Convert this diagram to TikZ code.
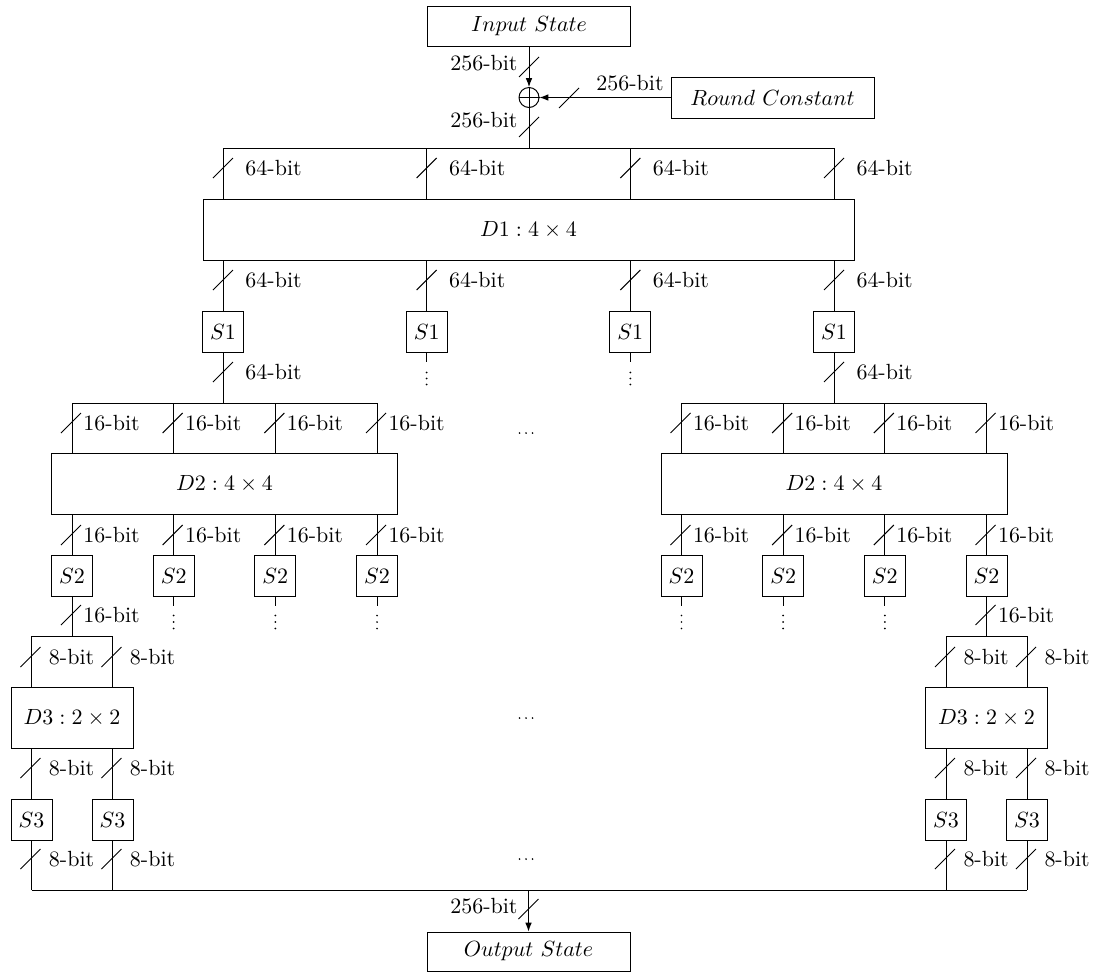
\documentclass[tikz,border=0pt]{standalone}
\usetikzlibrary{arrows.meta}
\newcommand\pxu{0.455pt}
\newcommand\slashmk[2]{\draw (#1-10,#2+10) -- (#1+10,#2-10);}
\begin{document}
\begin{tikzpicture}[x=\pxu, y=-\pxu, line width=0.45pt,
  box/.style={draw, inner sep=0pt},
  sbox/.style={draw, inner sep=0pt, minimum width=41*\pxu, minimum height=41*\pxu},
  lab/.style={inner sep=0pt, anchor=west},
  labr/.style={inner sep=0pt, anchor=east},
  arr/.style={-{Latex[length=4pt,width=3pt]}}]
\useasboundingbox (0,0) rectangle (1093,972);

% ---- top ----
\node[box, minimum width=203*\pxu, minimum height=40*\pxu] (in) at (529,26) {$Input\ State$};
\node[draw, circle, inner sep=0pt, minimum size=20*\pxu] (xor) at (529,97.5) {};
\draw (xor.north) -- (xor.south) (xor.west) -- (xor.east);
\node[box, minimum width=203*\pxu, minimum height=41*\pxu] (rc) at (772.5,97.5) {$Round\ Constant$};
\draw[arr] (in) -- (xor);
\slashmk{529}{67}
\node[labr] (l0) at (518,63) {256-bit};
\draw[arr] (rc) -- (xor);
\slashmk{569}{98}
\node[inner sep=0pt] (l1) at (630,83) {256-bit};
\coordinate (top) at (529,148);
\draw (xor) -- (top);
\slashmk{529}{127}
\node[labr] (l2) at (518,120) {256-bit};

% ---- D1 ----
\node[box, minimum width=651*\pxu, minimum height=61*\pxu] (D1) at (528.5,229.5) {$D1: 4\times 4$};
\foreach \k/\nm in {1/a,2/b,3/c,4/d} {
  \pgfmathsetmacro\xx{223+203.67*(\k-1)}
  \coordinate (t1\nm) at (\xx,148);
  \draw (t1\nm) -- (D1.north -| t1\nm);
  \slashmk{\xx}{168}
  \node[lab] at (\xx+22,168) {64-bit};
  \node[sbox] (S1\nm) at (\xx,331.5) {$S1$};
  \draw (D1.south -| t1\nm) -- (S1\nm);
  \slashmk{\xx}{280}
  \node[lab] at (\xx+22,280) {64-bit};
}
\draw (t1a) -- (t1d);

% stubs and vertical dots under S1b, S1c
\foreach \nm in {b,c} {
  \coordinate (v1\nm) at ([yshift=-9*\pxu]S1\nm.south);
  \draw (S1\nm) -- (v1\nm);
  \foreach \d in {20,26,32} \fill ([yshift=-\d*\pxu]S1\nm.south) circle (0.45pt);
}

% ---- D2 ----
\foreach \side/\cx in {L/224.5, R/834} {
  \node[box, minimum width=346*\pxu, minimum height=61*\pxu] (D2\side) at (\cx,483.5) {$D2: 4\times 4$};
  \foreach \k in {1,2,3,4} {
    \pgfmathsetmacro\xx{\cx-152.5+101.67*(\k-1)}
    \coordinate (t2\side\k) at (\xx,403);
    \draw (t2\side\k) -- (D2\side.north -| t2\side\k);
    \slashmk{\xx-1}{423}
    \node[lab] at (\xx+11,423) {16-bit};
    \node[sbox] (S2\side\k) at (\xx,575.5) {$S2$};
    \draw (D2\side.south -| t2\side\k) -- (S2\side\k);
    \slashmk{\xx-1}{535}
    \node[lab] at (\xx+11,535) {16-bit};
  }
  \draw (t2\side1) -- (t2\side4);
}
\draw (S1a) -- (S1a |- t2L1);
\slashmk{223}{372}
\node[lab] at (245,372) {64-bit};
\draw (S1d) -- (S1d |- t2R1);
\slashmk{834}{372}
\node[lab] at (856,372) {64-bit};

% dots between the blocks
\foreach \dx in {519.5,526,532.5} {
  \fill (\dx,433) circle (0.45pt);
  \fill (\dx,718) circle (0.45pt);
  \fill (\dx,859) circle (0.45pt);
}

% stubs and vertical dots under S2
\foreach \nm in {L2,L3,L4,R1,R2,R3} {
  \coordinate (v2\nm) at ([yshift=-9*\pxu]S2\nm.south);
  \draw (S2\nm) -- (v2\nm);
  \foreach \d in {19,25.5,32} \fill ([yshift=-\d*\pxu]S2\nm.south) circle (0.45pt);
}

% ---- D3 ----
\foreach \side/\cx in {L/72, R/986.5} {
  \node[box, minimum width=122*\pxu, minimum height=61*\pxu] (D3\side) at (\cx,717.5) {$D3: 2\times 2$};
  \foreach \k in {1,2} {
    \pgfmathsetmacro\xx{\cx-40.5+81*(\k-1)}
    \coordinate (t3\side\k) at (\xx,636);
    \draw (t3\side\k) -- (D3\side.north -| t3\side\k);
    \slashmk{\xx-1}{657}
    \node[lab] at (\xx+17,657) {8-bit};
    \node[sbox] (S3\side\k) at (\xx,819.5) {$S3$};
    \draw (D3\side.south -| t3\side\k) -- (S3\side\k);
    \slashmk{\xx-1}{768}
    \node[lab] at (\xx+17,768) {8-bit};
    \coordinate (b3\side\k) at (\xx,890);
    \draw (S3\side\k) -- (b3\side\k);
    \slashmk{\xx-1}{859}
    \node[lab] at (\xx+17,859) {8-bit};
  }
  \draw (t3\side1) -- (t3\side2);
}
\draw (S2L1) -- (S2L1 |- t3L1);
\slashmk{71}{615}
\node[lab] at (83,615) {16-bit};
\draw (S2R4) -- (S2R4 |- t3R1);
\slashmk{985.5}{615}
\node[lab] at (997.5,615) {16-bit};

% ---- output ----
\draw (b3L1) -- (b3R2);
\coordinate (ob) at (528.5,890);
\node[box, minimum width=203*\pxu, minimum height=39*\pxu] (out) at (528.5,951.5) {$Output\ State$};
\draw[arr] (ob) -- (out);
\slashmk{528.5}{909}
\node[labr] (l3) at (518,906) {256-bit};
\end{tikzpicture}
\end{document}
